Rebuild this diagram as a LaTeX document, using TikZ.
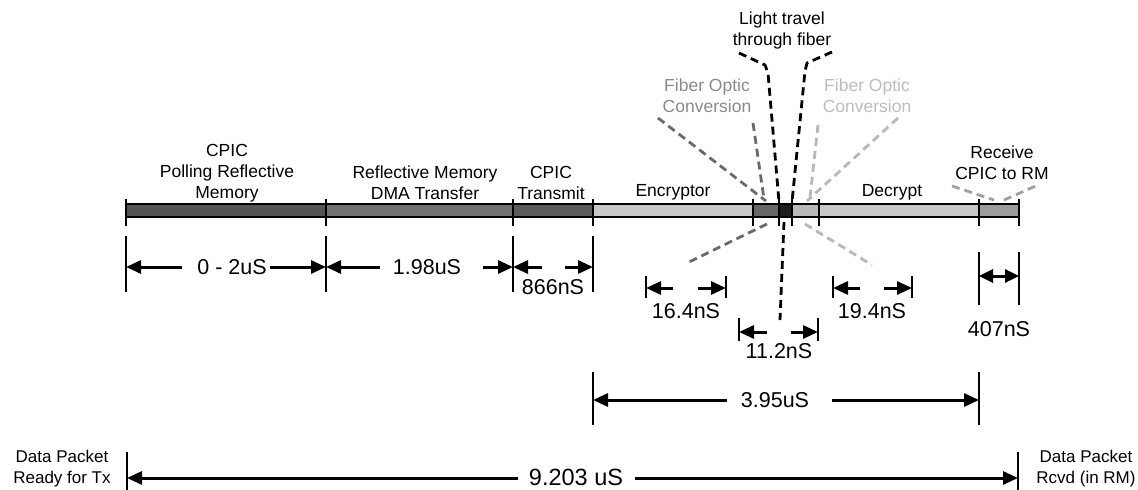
\documentclass[tikz,border=0pt]{standalone}
\usepackage{fontspec}
\setmainfont{Liberation Sans}
\usetikzlibrary{arrows.meta}
\definecolor{segA}{HTML}{545454}
\definecolor{segB}{HTML}{717171}
\definecolor{segC}{HTML}{5B5B5B}
\definecolor{segLight}{HTML}{C8C8C8}
\definecolor{segFoA}{HTML}{666666}
\definecolor{segFib}{HTML}{1E1E1E}
\definecolor{segFoB}{HTML}{B8B8B8}
\definecolor{segRcv}{HTML}{9C9C9C}
\definecolor{txtFoA}{HTML}{8A8A8A}
\definecolor{txtFoB}{HTML}{BDBDBD}
\definecolor{dashFoA}{HTML}{6A6A6A}
\definecolor{dashFoB}{HTML}{B8B8B8}
\definecolor{dashRcv}{HTML}{A0A0A0}
\begin{document}
\begin{tikzpicture}[x=1pt,y=-1pt,
  lbl/.style={font=\fontsize{17.5}{21}\selectfont, align=center, inner sep=0pt},
  dimlbl/.style={font=\fontsize{21.5}{24}\selectfont, inner sep=0pt},
  sidelbl/.style={font=\fontsize{17}{21}\selectfont, align=center, inner sep=0pt},
  tickline/.style={line width=1.4pt},
  barline/.style={line width=1.5pt},
  dimarrow/.style={line width=3pt, -{Triangle[length=15pt,width=13pt]}},
  dblarrow/.style={line width=3pt, {Triangle[length=14pt,width=13pt]}-{Triangle[length=14pt,width=13pt]}},
  fodash/.style={line width=2.8pt, dash pattern=on 8pt off 5pt},
]
\useasboundingbox (0,0) rectangle (1138,490);

% ---- bar segments ----
\foreach \a/\b/\c in {126/326/segA, 326/513/segB, 513/593/segC, 593/753/segLight,
  753/779/segFoA, 779/792/segFib, 792/819/segFoB, 819/979/segLight, 979/1019/segRcv}
  {\fill[\c] (\a,204) rectangle (\b,217);}
\draw[barline] (126,204) -- (1019,204) (126,217) -- (1019,217);
\foreach \x in {126,326,513,593,753,779,792,819,979,1019}
  {\draw[tickline] (\x,199) -- (\x,226);}

% ---- segment labels ----
\node[lbl] (lpoll) at (227,173) {CPIC\\Polling Reflective\\Memory};
\node[lbl] (lrmdma) at (425,183) {Reflective Memory\\DMA Transfer};
\node[lbl] (lcpictx) at (551,183) {CPIC\\Transmit};
\node[lbl] (lenc) at (673,192) {Encryptor};
\node[lbl] (ldec) at (892,192) {Decrypt};
\node[lbl] (llight) at (782,30) {Light travel\\through fiber};
\node[lbl, text=txtFoA] (lfoa) at (707,96) {Fiber Optic\\Conversion};
\node[lbl, text=txtFoB] (lfob) at (867,96) {Fiber Optic\\Conversion};
\node[lbl] (lrcv) at (1002,163) {Receive\\CPIC to RM};

% ---- pointer dashes ----
\coordinate (la1) at (739,53); \coordinate (la2) at (765,65); \coordinate (la3) at (768,73); \coordinate (la4) at (779,202);
\coordinate (lb1) at (832,52); \coordinate (lb2) at (807,63); \coordinate (lb3) at (805,71); \coordinate (lb4) at (792,202);
\coordinate (lc1) at (784,222); \coordinate (lc2) at (780,320);
\draw[fodash, black] (la1) -- (la2) -- (la3) -- (la4);
\draw[fodash, black] (lb1) -- (lb2) -- (lb3) -- (lb4);
\draw[fodash, black] (lc1) -- (lc2);

\coordinate (fa1) at (658,118); \coordinate (fa2) at (766,201);
\coordinate (fa3) at (753,123); \coordinate (fa4) at (764,199);
\coordinate (fa5) at (767,224); \coordinate (fa6) at (687,263);
\draw[fodash, dashFoA] (fa1) -- (fa2);
\draw[fodash, dashFoA] (fa3) -- (fa4);
\draw[fodash, dashFoA] (fa5) -- (fa6);

\coordinate (fb1) at (818,125); \coordinate (fb2) at (810,198);
\coordinate (fb3) at (898,118); \coordinate (fb4) at (807,201);
\coordinate (fb5) at (805,224); \coordinate (fb6) at (872,265);
\draw[fodash, dashFoB] (fb1) -- (fb2);
\draw[fodash, dashFoB] (fb3) -- (fb4);
\draw[fodash, dashFoB] (fb5) -- (fb6);

\coordinate (ra1) at (952,186); \coordinate (ra2) at (994,200);
\coordinate (rb1) at (1004,200); \coordinate (rb2) at (1038,185);
\draw[fodash, dashRcv] (ra1) -- (ra2);
\draw[fodash, dashRcv] (rb1) -- (rb2);

% ---- row 1 dimensions ----
\foreach \x in {126,326,513,593} {\draw[tickline] (\x,236) -- (\x,292);}
\node[dimlbl] (d1) at (232,267) {0 - 2uS};
\coordinate (d1l) at (182,267); \coordinate (d1r) at (270,267);
\coordinate (t126) at (126,267); \coordinate (t326) at (326,267);
\draw[dimarrow] (d1l) -- (t126);
\draw[dimarrow] (d1r) -- (t326);

\node[dimlbl] (d2) at (427,267) {1.98uS};
\coordinate (d2l) at (380,267); \coordinate (d2r) at (483,267);
\coordinate (t513) at (513,267);
\draw[dimarrow] (d2l) -- (t326);
\draw[dimarrow] (d2r) -- (t513);

\node[dimlbl] (d3) at (553,287) {866nS};
\coordinate (d3l) at (542,267); \coordinate (d3r) at (565,267);
\coordinate (t593) at (593,267);
\draw[dimarrow] (d3l) -- (t513);
\draw[dimarrow] (d3r) -- (t593);

% ---- 16.4nS ----
\foreach \x in {646,726} {\draw[tickline] (\x,276) -- (\x,298);}
\node[dimlbl] (d4) at (686,311) {16.4nS};
\coordinate (d4a) at (673,288); \coordinate (d4b) at (646,288);
\coordinate (d4c) at (698,288); \coordinate (d4d) at (726,288);
\draw[dimarrow] (d4a) -- (d4b);
\draw[dimarrow] (d4c) -- (d4d);

% ---- 19.4nS ----
\foreach \x in {833,912} {\draw[tickline] (\x,276) -- (\x,298);}
\node[dimlbl] (d5) at (872,311) {19.4nS};
\coordinate (d5a) at (860,288); \coordinate (d5b) at (833,288);
\coordinate (d5c) at (884,288); \coordinate (d5d) at (912,288);
\draw[dimarrow] (d5a) -- (d5b);
\draw[dimarrow] (d5c) -- (d5d);

% ---- 11.2nS ----
\foreach \x in {739,818} {\draw[tickline] (\x,318) -- (\x,341);}
\node[dimlbl] (d6) at (779,351) {11.2nS};
\coordinate (d6a) at (767,332); \coordinate (d6b) at (739,332);
\coordinate (d6c) at (791,332); \coordinate (d6d) at (818,332);
\draw[dimarrow] (d6a) -- (d6b);
\draw[dimarrow] (d6c) -- (d6d);

% ---- 407nS ----
\foreach \x in {979,1019} {\draw[tickline] (\x,252) -- (\x,305);}
\node[dimlbl] (d7) at (999,329) {407nS};
\coordinate (d7a) at (979,276); \coordinate (d7b) at (1019,276);
\draw[dblarrow] (d7a) -- (d7b);

% ---- 3.95uS ----
\foreach \x in {593,979} {\draw[tickline] (\x,372) -- (\x,425);}
\node[dimlbl] (d8) at (775,400) {3.95uS};
\coordinate (d8a) at (727,400); \coordinate (d8b) at (593,400);
\coordinate (d8c) at (832,400); \coordinate (d8d) at (979,400);
\draw[dimarrow] (d8a) -- (d8b);
\draw[dimarrow] (d8c) -- (d8d);

% ---- 9.203 uS ----
\foreach \x in {127,1018} {\draw[tickline] (\x,452) -- (\x,490);}
\node[dimlbl, font=\fontsize{23.5}{26}\selectfont] (d9) at (576,477) {9.203 uS};
\coordinate (d9a) at (518,478); \coordinate (d9b) at (127,478);
\coordinate (d9c) at (635,478); \coordinate (d9d) at (1018,478);
\draw[dimarrow] (d9a) -- (d9b);
\draw[dimarrow] (d9c) -- (d9d);

\node[sidelbl] (ready) at (62,469) {Data Packet\\Ready for Tx};
\node[sidelbl] (rcvd) at (1086,469) {Data Packet\\Rcvd (in RM)};
\end{tikzpicture}
\end{document}
